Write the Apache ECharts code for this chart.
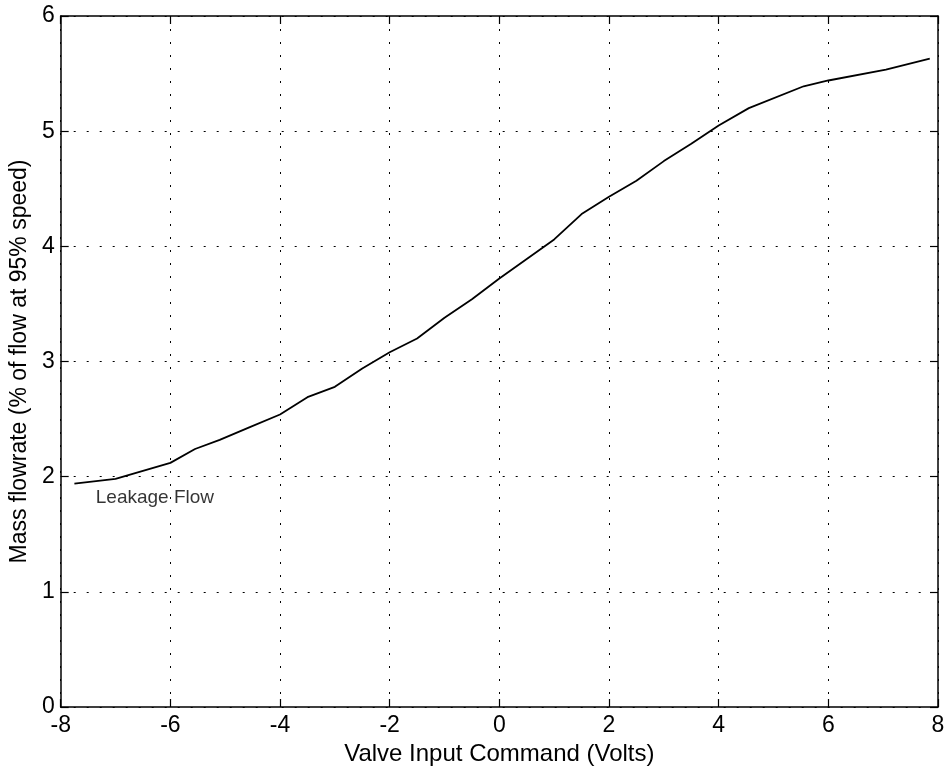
<!DOCTYPE html>
<html>
<head>
<meta charset="utf-8">
<script src="https://cdn.jsdelivr.net/npm/echarts@6/dist/echarts.min.js"></script>
<style>
html,body{margin:0;padding:0;background:#fff;}
#chart{width:949px;height:772px;}
</style>
</head>
<body>
<div id="chart"></div>
<script>
// Valve input command (Volts)
var voltage = [-7.75, -7.0, -6.0, -5.55, -5.1, -4.55, -4.0, -3.5, -3.0, -2.5, -2.0, -1.5, -1.0, -0.5, 0.0, 0.5, 1.0, 1.5, 2.0, 2.5, 3.0, 3.5, 4.0, 4.55, 5.55, 6.0, 7.05, 7.85];
// Mass flowrate (% of flow at 95% speed)
var flowrate = [1.94, 1.98, 2.12, 2.24, 2.32, 2.43, 2.54, 2.69, 2.78, 2.94, 3.08, 3.20, 3.38, 3.54, 3.72, 3.89, 4.06, 4.28, 4.43, 4.57, 4.74, 4.89, 5.05, 5.20, 5.39, 5.44, 5.535, 5.63];
var xTicks = [-8, -6, -4, -2, 0, 2, 4, 6, 8];
var yTicks = [0, 1, 2, 3, 4, 5, 6];
var annotationText = ['Leakage Flow'];
var annotationX = [-7.36];
var annotationY = [1.82];

var font = 'Liberation Sans, Arial, Helvetica, sans-serif';
var chart = echarts.init(document.getElementById('chart'), null, {renderer: 'canvas'});
var lineData = voltage.map(function (v, i) { return [v, flowrate[i]]; });
var annData = annotationText.map(function (t, i) { return {value: [annotationX[i], annotationY[i]], name: t}; });

var axisLineStyle = {color: '#000', width: 1.5};
chart.setOption({
  animation: false,
  backgroundColor: '#fff',
  grid: {left: 58, right: 11, top: 16, bottom: 65, containLabel: false},
  xAxis: [{
    type: 'value', min: xTicks[0], max: xTicks[xTicks.length - 1], interval: 2,
    name: 'Valve Input Command (Volts)', nameLocation: 'middle', nameGap: 27,
    nameTextStyle: {color: '#000', fontSize: 24, fontFamily: font},
    axisLine: {show: true, onZero: false, lineStyle: axisLineStyle},
    axisTick: {show: true, inside: true, length: 8, lineStyle: {color: '#000', width: 1.2}},
    axisLabel: {color: '#000', fontSize: 23, fontFamily: font, margin: 7},
    splitLine: {show: true, lineStyle: {color: '#000', width: 1, type: [2, 11]}}
  }, {
    type: 'value', position: 'top', min: xTicks[0], max: xTicks[xTicks.length - 1], interval: 2,
    axisLine: {show: true, onZero: false, lineStyle: axisLineStyle},
    axisTick: {show: true, inside: true, length: 8, lineStyle: {color: '#000', width: 1.2}},
    axisLabel: {show: false}, splitLine: {show: false}
  }],
  yAxis: [{
    type: 'value', min: yTicks[0], max: yTicks[yTicks.length - 1], interval: 1,
    name: 'Mass flowrate (% of flow at 95% speed)', nameLocation: 'middle', nameGap: 24,
    nameTextStyle: {color: '#000', fontSize: 23, fontFamily: font},
    axisLine: {show: true, onZero: false, lineStyle: axisLineStyle},
    axisTick: {show: true, inside: true, length: 8, lineStyle: {color: '#000', width: 1.2}},
    axisLabel: {color: '#000', fontSize: 23, fontFamily: font, margin: 6},
    splitLine: {show: true, lineStyle: {color: '#000', width: 1, type: [2, 11]}}
  }, {
    type: 'value', position: 'right', min: yTicks[0], max: yTicks[yTicks.length - 1], interval: 1,
    axisLine: {show: true, onZero: false, lineStyle: axisLineStyle},
    axisTick: {show: true, inside: true, length: 8, lineStyle: {color: '#000', width: 1.2}},
    axisLabel: {show: false}, splitLine: {show: false}
  }],
  series: [{
    type: 'line', data: lineData, showSymbol: false, symbol: 'none',
    lineStyle: {color: '#000', width: 1.8}, z: 5
  }, {
    type: 'scatter', data: annData, symbolSize: 0, silent: true, z: 6,
    label: {show: true, position: 'right', distance: 0, formatter: '{b}',
      color: '#000', fontSize: 19, fontFamily: font}
  }]
});
</script>
</body>
</html>
